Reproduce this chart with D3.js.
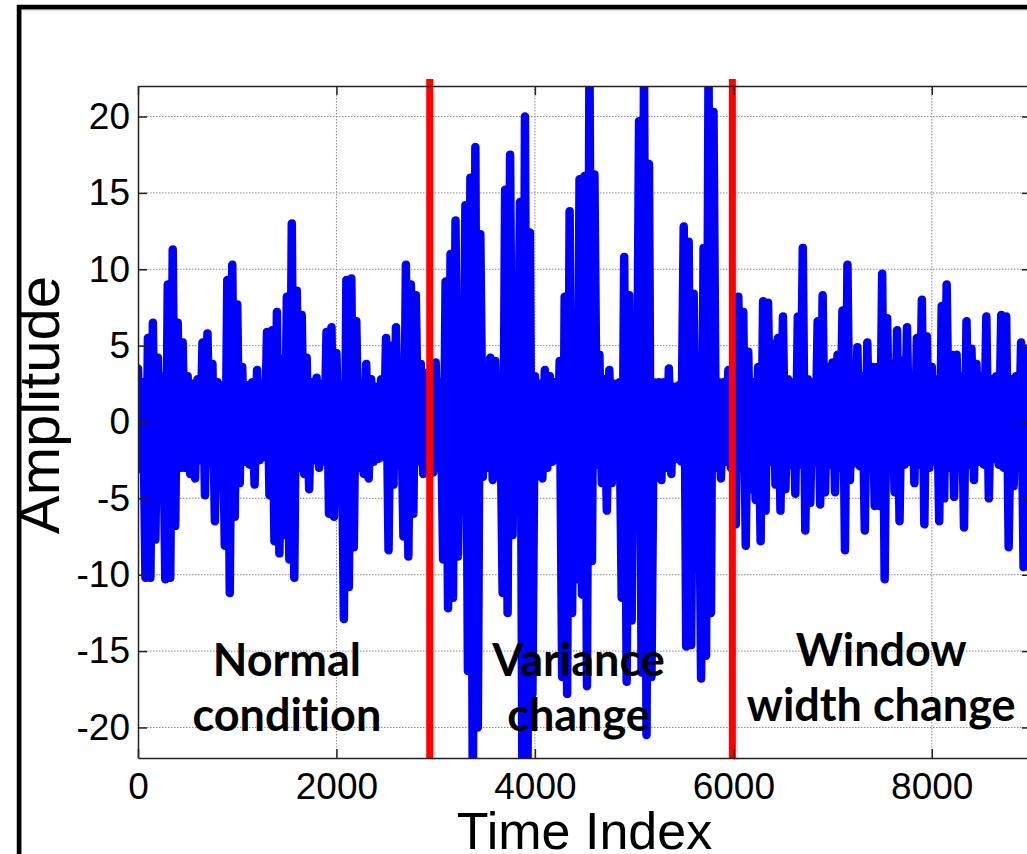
<!DOCTYPE html>
<html><head><meta charset="utf-8">
<script src="https://cdn.jsdelivr.net/npm/d3@7"></script>
<style>html,body{margin:0;padding:0;background:#fff;overflow:hidden;} svg{display:block;} text{font-variant-ligatures:none;font-feature-settings:"liga" 0,"clig" 0;}</style>
</head><body>
<script>
// ---- data ----
const sampleStep = 50;            // time indices between successive swing peaks
// positive swing peaks, one per window of 50 samples
const upper = [
 3.5,2.6,5.5,6.5,4.2,3.0,9.0,11.3,6.5,5.2, 3.0,2.5,2.8,5.2,5.8,3.8,2.6,2.4,9.3,10.3,
 7.7,3.6,2.4,2.6,3.4,2.5,5.9,6.0,7.2,4.1, 8.2,13.0,8.6,7.0,4.2,2.6,2.9,2.5,5.9,6.2,
 4.5,2.4,9.3,9.4,6.6,2.5,3.8,2.8,2.3,2.8, 5.5,5.0,6.2,2.4,10.3,9.0,8.3,3.8,3.2,3.0,
 3.9,2.6,9.2,11.0,13.2,2.8,14.2,16.0,18.0,12.3, 2.8,4.2,4.0,2.5,15.2,17.5,6.5,14.4,20.0,12.4,
 3.0,2.5,3.4,3.0,2.6,4.0,8.2,13.8,5.6,15.9, 16.1,23.5,16.2,4.4,2.8,3.4,2.5,2.6,10.8,8.3,
 5.6,19.7,23.5,16.9,2.6,2.6,2.6,3.5,2.3,2.4, 12.8,11.8,8.4,2.6,11.4,23.0,20.3,2.6,2.6,3.4,
 3.4,8.2,7.2,4.6,2.6,3.6,7.9,7.8,5.1,5.5, 6.9,2.8,2.6,6.9,11.4,2.8,2.6,6.6,8.3,3.6,
 3.9,4.4,7.3,10.3,2.8,4.9,3.0,5.2,3.6,3.6, 9.7,6.8,3.8,6.0,4.0,6.2,2.8,5.5,8.0,5.6,
 3.6,2.8,7.6,9.0,4.4,4.4,3.0,6.6,4.8,3.8, 3.0,6.9,2.8,3.0,7.0,6.9,2.8,3.0,5.2,4.8,
 2.6,4.5,3.0,6.0,2.8,3.5
];
// negative swing troughs, half a window later
const lower = [
 -3.1,-10.2,-10.2,-7.7,-4.0,-10.3,-10.2,-6.8,-3.0,-3.0, -3.4,-3.7,-2.5,-4.8,-2.7,-6.5,-2.8,-8.1,-11.2,-6.2,
 -4.0,-2.6,-2.8,-4.1,-2.5,-2.3,-4.8,-7.8,-8.6,-7.4, -9.0,-10.2,-3.0,-3.4,-4.4,-2.5,-3.0,-2.6,-6.0,-6.2,
 -3.0,-12.9,-10.8,-8.2,-3.0,-3.4,-3.7,-2.6,-2.4,-2.3, -8.4,-4.1,-2.6,-7.5,-8.8,-6.0,-2.6,-3.4,-3.0,-3.3,
 -3.0,-9.0,-12.2,-11.5,-8.8,-2.6,-16.3,-25,-20,-3.6, -3.0,-3.8,-2.6,-11.2,-12.5,-7.4,-2.6,-25,-24,-17.8,
 -3.0,-3.7,-3.0,-2.6,-2.4,-16.7,-17.8,-12.5,-10.3,-11.3, -17.3,-9.1,-2.8,-4.0,-5.8,-4.0,-2.7,-11.5,-17.0,-13.0,
 -4.2,-16.4,-20.5,-16.7,-2.6,-3.8,-3.0,-3.4,-2.4,-2.6, -14.7,-14.6,-3.3,-16.8,-15.3,-12.5,-3.0,-3.7,-2.6,-3.0,
 -6.7,-3.0,-8.1,-4.4,-5.1,-7.8,-5.8,-2.6,-4.1,-5.8, -4.4,-2.8,-4.7,-2.8,-7.1,-5.3,-2.6,-5.4,-4.6,-2.8,
 -4.6,-3.0,-8.4,-3.8,-2.7,-2.9,-7.1,-3.0,-5.5,-5.5, -10.3,-3.0,-4.6,-6.5,-2.8,-2.6,-4.0,-2.8,-6.7,-3.0,
 -2.6,-6.5,-5.0,-3.0,-4.9,-3.0,-6.9,-2.8,-3.8,-2.6, -2.8,-5.0,-2.4,-2.8,-3.0,-8.2,-4.2,-2.8,-9.5,-3.0,
 -6.0,-2.8,-4.0,-2.6,-5.0,-3.0
];
const changePoints = [2940, 5990];
const xTicks = [0, 2000, 4000, 6000, 8000];
const yTicks = [-20, -15, -10, -5, 0, 5, 10, 15, 20];
const regionLabels = [["Normal", "condition"], ["Variance", "change"], ["Window", "width change"]];
const xTitle = "Time Index";
const yTitle = "Amplitude";

// ---- drawing ----
const W = 1027, H = 854;
const L = 138, R = 1031, T = 86, B = 758;
const x = d3.scaleLinear([0, 9000], [L, R]);
const y = d3.scaleLinear([-22, 22], [B, T]);

const svg = d3.select("body").append("svg").attr("width", W).attr("height", H)
  .style("font-family", "'Liberation Sans', Arial, sans-serif");
svg.append("rect").attr("width", W).attr("height", H).attr("fill", "#fff");

// outer frame (shadow + black)
svg.append("rect").attr("x", 21).attr("y", 9.5).attr("width", 1200).attr("height", 1000)
  .attr("fill", "none").attr("stroke", "#bbb").attr("stroke-width", 2);
svg.append("rect").attr("x", 19).attr("y", 7).attr("width", 1200).attr("height", 1000)
  .attr("fill", "none").attr("stroke", "#000").attr("stroke-width", 4.5);

svg.append("defs").append("clipPath").attr("id", "plotclip")
  .append("rect").attr("x", L).attr("y", T).attr("width", R - L).attr("height", B - T);

// grid
const grid = svg.append("g").attr("stroke", "#8a8a8a").attr("stroke-width", 1)
  .attr("stroke-dasharray", "1.5,1.5");
grid.selectAll(".gx").data(xTicks.filter(d => d > 0)).join("line")
  .attr("x1", d => x(d)).attr("x2", d => x(d)).attr("y1", T).attr("y2", B);
grid.selectAll(".gy").data(yTicks).join("line")
  .attr("y1", d => y(d)).attr("y2", d => y(d)).attr("x1", L).attr("x2", R);

// signal
const pts = [];
upper.forEach((u, i) => {
  pts.push([i * sampleStep, u]);
  pts.push([i * sampleStep + sampleStep / 2, lower[i]]);
});
svg.append("path").datum(pts)
  .attr("clip-path", "url(#plotclip)")
  .attr("d", d3.line().x(d => x(d[0])).y(d => y(d[1])))
  .attr("fill", "none").attr("stroke", "#0000ff").attr("stroke-width", 8.5)
  .attr("stroke-linejoin", "round").attr("stroke-linecap", "round");

// change-point lines
const cp = svg.append("g");
cp.selectAll(".sh").data(changePoints).join("line")
  .attr("x1", d => x(d) + 3).attr("x2", d => x(d) + 3).attr("y1", T - 6).attr("y2", B + 2)
  .attr("stroke", "#000").attr("stroke-opacity", 0.12).attr("stroke-width", 5);
cp.selectAll(".rl").data(changePoints).join("line")
  .attr("x1", d => x(d)).attr("x2", d => x(d)).attr("y1", T - 7).attr("y2", B)
  .attr("stroke", "#ff0000").attr("stroke-width", 7);

// axes
const axStyle = g => {
  g.select(".domain").attr("stroke", "#222").attr("stroke-width", 1.5);
  g.selectAll(".tick line").attr("stroke", "#222").attr("stroke-width", 1.5);
  g.selectAll("text").attr("fill", "#000").style("font-size", "37px")
    .style("font-family", "'Liberation Sans', Arial, sans-serif");
};
svg.append("g").attr("transform", `translate(${L},0)`)
  .call(d3.axisLeft(y).tickValues(yTicks).tickSize(-9).tickSizeOuter(0).tickPadding(8).tickFormat(d => String(d)))
  .call(axStyle);
svg.append("g").attr("transform", `translate(0,${B})`)
  .call(d3.axisBottom(x).tickValues(xTicks).tickSize(-9).tickSizeOuter(0).tickPadding(15).tickFormat(d => String(d)))
  .call(axStyle);
svg.append("g").attr("transform", `translate(0,${T})`)
  .call(d3.axisTop(x).tickValues(xTicks).tickSize(-9).tickSizeOuter(0).tickFormat(""))
  .call(axStyle);
svg.append("g").attr("transform", `translate(${R},0)`)
  .call(d3.axisRight(y).tickValues(yTicks).tickSize(-9).tickSizeOuter(0).tickFormat(""))
  .call(axStyle);

// titles
svg.append("text").attr("x", (L + R) / 2).attr("y", 849).attr("text-anchor", "middle")
  .style("font-size", "52px").text(xTitle);
svg.append("text").attr("transform", "translate(59,405) rotate(-90)").attr("text-anchor", "middle")
  .style("font-size", "58px").text(yTitle);

// region annotations
const labelX = [1500, 4440, 7490];
const ann = svg.append("g").style("font-family", "Lato, 'Open Sans', sans-serif")
  .style("font-weight", 700).style("font-size", "45px").attr("text-anchor", "middle").attr("fill", "#000");
regionLabels.forEach((lines, k) => {
  const base = k === 2 ? 666 : 676;
  lines.forEach((s, j) => {
    ann.append("text").attr("x", x(labelX[k])).attr("y", base + j * 55).text(s);
  });
});
</script>
</body></html>
